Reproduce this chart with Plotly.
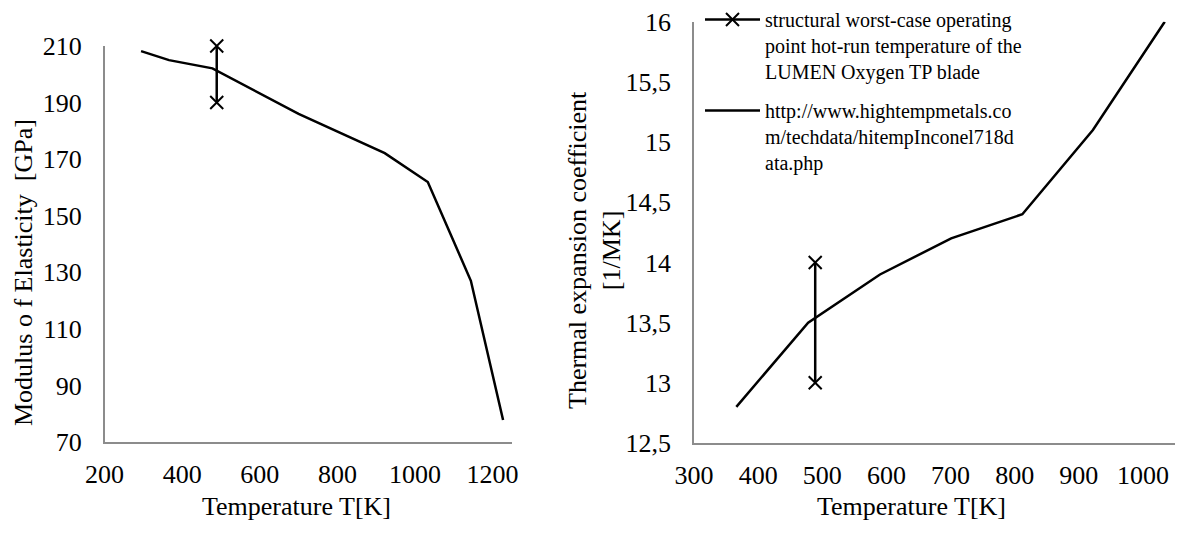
import plotly.graph_objects as go

# ---- data ----
T_E = [294, 366, 478, 700, 922, 1033, 1144, 1227]
E_GPa = [208.2, 205.0, 202.1, 186.0, 172.1, 161.9, 127.0, 77.8]
T_E_point = [489, 489]
E_point = [190, 210]

T_alpha = [366, 478, 590, 701, 812, 922, 1034]
alpha = [12.8, 13.5, 13.9, 14.2, 14.4, 15.1, 16.0]
T_alpha_point = [489, 489]
alpha_point = [13, 14]

left_xticks = [200, 400, 600, 800, 1000, 1200]
left_yticks = [70, 90, 110, 130, 150, 170, 190, 210]
right_xticks = [300, 400, 500, 600, 700, 800, 900, 1000]
right_yticks = [12.5, 13, 13.5, 14, 14.5, 15, 15.5, 16]
right_yticktext = ["12,5", "13", "13,5", "14", "14,5", "15", "15,5", "16"]

name_point = "structural worst-case operating<br>point hot-run temperature of the<br>LUMEN Oxygen TP blade"
name_src = "http://www.hightempmetals.co<br>m/techdata/hitempInconel718d<br>ata.php"

W, H = 1177, 533
FONT = "Liberation Serif, Times New Roman, serif"
AX = "#8c8c8c"

fig = go.Figure()

marker_x = dict(symbol="x-thin", size=13, line=dict(width=2, color="black"))

# left chart
fig.add_trace(go.Scatter(x=T_E_point, y=E_point, mode="lines+markers",
                         line=dict(color="black", width=2.5), marker=marker_x, cliponaxis=False,
                         xaxis="x", yaxis="y", showlegend=False, legendgroup="a"))
fig.add_trace(go.Scatter(x=T_E, y=E_GPa, mode="lines",
                         line=dict(color="black", width=2.5), cliponaxis=False,
                         xaxis="x", yaxis="y", showlegend=False, legendgroup="b"))

# right chart
fig.add_trace(go.Scatter(x=T_alpha_point, y=alpha_point, mode="lines+markers", name=name_point,
                         line=dict(color="black", width=2.5), marker=marker_x, cliponaxis=False,
                         xaxis="x2", yaxis="y2", legendgroup="a"))
fig.add_trace(go.Scatter(x=T_alpha, y=alpha, mode="lines", name=name_src,
                         line=dict(color="black", width=2.5), cliponaxis=False,
                         xaxis="x2", yaxis="y2", legendgroup="b"))

def px_x(p):
    return p / W

def px_y(p):
    return 1 - p / H

axis_common = dict(showgrid=False, zeroline=False, showline=True, linecolor=AX, linewidth=1.5,
                   ticks="", automargin=False,
                   tickfont=dict(family=FONT, size=26, color="black"))

fig.update_layout(
    template="none",
    width=W, height=H,
    margin=dict(l=0, r=0, t=0, b=0, pad=0),
    paper_bgcolor="white", plot_bgcolor="white",
    font=dict(family=FONT, color="black"),
    xaxis=dict(domain=[px_x(104.6), px_x(512)], range=[200, 1250], anchor="y",
               tickvals=left_xticks, ticklabelstandoff=8, **axis_common),
    yaxis=dict(domain=[px_y(442), px_y(46)], range=[70, 210], anchor="x",
               tickvals=left_yticks, ticklabelstandoff=16, **axis_common),
    xaxis2=dict(domain=[px_x(694), px_x(1175)], range=[300, 1050], anchor="y2",
                tickvals=right_xticks, ticklabelstandoff=8, **axis_common),
    yaxis2=dict(domain=[px_y(443), px_y(21.7)], range=[12.5, 16], anchor="x2",
                tickvals=right_yticks, ticktext=right_yticktext, ticklabelstandoff=16, **axis_common),
    showlegend=True,
    legend=dict(x=px_x(700), y=1, xanchor="left", yanchor="top",
                bgcolor="rgba(0,0,0,0)", font=dict(family=FONT, size=20, color="black"),
                traceorder="grouped", tracegroupgap=10, valign="top", itemwidth=55),
    annotations=[
        dict(text="Temperature T[K]", x=px_x(297), y=px_y(506), xref="paper", yref="paper",
             showarrow=False, xanchor="center", yanchor="middle", font=dict(family=FONT, size=26)),
        dict(text="Temperature T[K]", x=px_x(911), y=px_y(506), xref="paper", yref="paper",
             showarrow=False, xanchor="center", yanchor="middle", font=dict(family=FONT, size=26)),
        dict(text="Modulus o f Elasticity  [GPa]", x=px_x(23), y=px_y(273), xref="paper", yref="paper",
             showarrow=False, xanchor="center", yanchor="middle", textangle=-90,
             font=dict(family=FONT, size=26)),
        dict(text="Thermal expansion coefficient<br>[1/MK]", x=px_x(594), y=px_y(250),
             xref="paper", yref="paper", showarrow=False, xanchor="center", yanchor="middle",
             textangle=-90, font=dict(family=FONT, size=26)),
    ],
)

fig.write_html("out.html")
